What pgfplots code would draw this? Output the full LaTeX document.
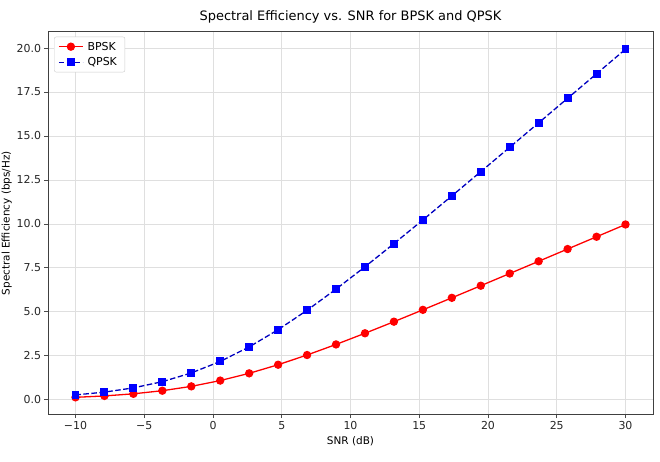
\documentclass[border=0pt]{standalone}
\usepackage{pgfplots}
\pgfplotsset{compat=1.18}
\usepackage{fontspec}
\setmainfont{DejaVu Sans}
\begin{document}
\begin{tikzpicture}[x=1bp,y=1bp]
\useasboundingbox (-48bp,-47.3bp) rectangle (612bp,414.7bp);
\begin{axis}[
  at={(0,0)}, anchor=south west,
  scale only axis, width=605bp, height=383bp,
  xmin=-12, xmax=32, ymin=-0.85, ymax=20.93,
  xtick={-10,-5,0,5,10,15,20,25,30},
  xticklabels={−10,−5,0,5,10,15,20,25,30},
  ytick={0,2.5,5,7.5,10,12.5,15,17.5,20},
  /pgf/number format/assume math mode=true,
  yticklabel style={/pgf/number format/fixed,/pgf/number format/fixed zerofill,/pgf/number format/precision=1},
  tick label style={font=\fontsize{11}{13}\selectfont, text=black!85},
  label style={font=\fontsize{10.5}{12}\selectfont},
  title style={font=\fontsize{13}{15}\selectfont, yshift=-1bp},
  title={Spectral Efficiency vs. SNR for BPSK and QPSK},
  xlabel={SNR (dB)},
  ylabel={Spectral Efficiency (bps/Hz)},
  xlabel style={yshift=0bp},
  ylabel style={yshift=-2bp},
  tick align=outside, tick pos=left,
  major tick length=3.5bp,
  every tick/.style={black!70, line width=0.8bp},
  axis line style={black!75, line width=0.8bp},
  grid=major,
  major grid style={gray!25, line width=0.8bp},
  legend style={at={(rel axis cs:0.01,0.987)}, anchor=north west,
    font=\fontsize{11}{13}\selectfont, draw=black!20, rounded corners=2bp,
    inner xsep=4bp, inner ysep=3bp, row sep=2bp, cells={anchor=west},
    nodes={inner xsep=4bp}},
  legend cell align=left,
  legend image code/.code={\draw[mark repeat=2,mark phase=2] plot coordinates {(0bp,0bp) (12bp,0bp) (24bp,0bp)};},
]
\addplot[red, line width=1.3bp, mark=*, mark size=3.5bp, mark options={solid, fill=red}]
coordinates {
(-10,0.1375) (-7.895,0.2171) (-5.789,0.3377) (-3.684,0.5141) (-1.579,0.7615)
(0.526,1.0900) (2.632,1.5023) (4.737,1.9915) (6.842,2.5442) (8.947,3.1453)
(11.053,3.7806) (13.158,4.4390) (15.263,5.1126) (17.368,5.7958) (19.474,6.4852)
(21.579,7.1784) (23.684,7.8739) (25.789,8.5710) (27.895,9.2689) (30,9.9672)
};
\addlegendentry{BPSK}
\addplot[blue!75!black, line width=1.3bp, dash pattern=on 5.5bp off 2.5bp, mark=square*, mark size=3.3bp, mark options={solid, fill=blue, draw=blue}]
coordinates {
(-10,0.275) (-7.895,0.434) (-5.789,0.675) (-3.684,1.028) (-1.579,1.523)
(0.526,2.180) (2.632,3.005) (4.737,3.983) (6.842,5.088) (8.947,6.291)
(11.053,7.561) (13.158,8.878) (15.263,10.225) (17.368,11.592) (19.474,12.970)
(21.579,14.357) (23.684,15.748) (25.789,17.142) (27.895,18.538) (30,19.934)
};
\addlegendentry{QPSK}
\end{axis}
\end{tikzpicture}
\end{document}
